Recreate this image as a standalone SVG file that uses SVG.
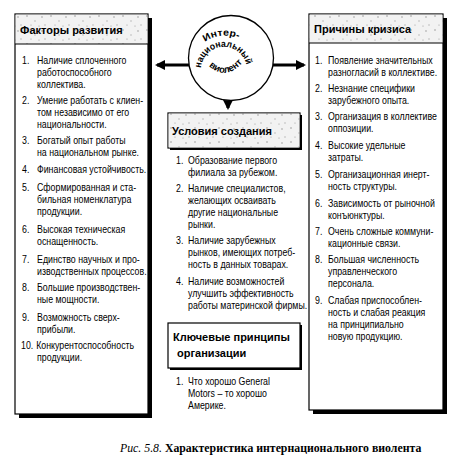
<svg xmlns="http://www.w3.org/2000/svg" width="469" height="464" viewBox="0 0 469 464">
<style>
.box{fill:#fff;stroke:#000;stroke-width:1.2}
.sh{fill:#000}
.hd{font-family:"Liberation Sans",Arial,sans-serif;font-weight:bold;font-size:11px;fill:#000}
.it{font-family:"Liberation Sans",Arial,sans-serif;font-size:10.5px;fill:#000}
.cap{font-family:"Liberation Serif","Times New Roman",serif;font-size:11.8px;fill:#000}
.arr{stroke:#000;stroke-width:3;fill:none}
.ct{font-family:"Liberation Sans",Arial,sans-serif;font-weight:bold;font-size:9.5px;fill:#000}
</style>
<defs>
<pattern id="spk" width="24" height="14" patternUnits="userSpaceOnUse">
<rect width="24" height="14" fill="#f2f2f2"/>
<circle cx="3" cy="2" r="0.8" fill="#999"/>
<circle cx="11" cy="7" r="0.7" fill="#aaa"/>
<circle cx="18" cy="3" r="0.9" fill="#bbb"/>
<circle cx="7" cy="11" r="0.6" fill="#999"/>
<circle cx="21" cy="11" r="0.7" fill="#aaa"/>
<circle cx="15" cy="12" r="0.5" fill="#888"/>
</pattern>
<marker id="ah" viewBox="0 0 10 10" refX="8" refY="5" markerWidth="3.4" markerHeight="3.4" orient="auto" markerUnits="strokeWidth">
<path d="M0,0 L10,5 L0,10 Z" fill="#000"/>
</marker>
<path id="p1" d="M205,41.8 A34,34 0 0 1 242,40.6"/>
<path id="p2" d="M201,68 A23,23 0 0 1 246.6,66"/>
<path id="p3" d="M206,63 Q225,84 245,60"/>
</defs>

<g id="connectors">
<line class="arr" x1="189" y1="65" x2="157" y2="65" marker-end="url(#ah)"/>
<line class="arr" x1="273" y1="65" x2="304" y2="65" marker-end="url(#ah)"/>
<line class="arr" x1="228" y1="100" x2="228" y2="108" marker-end="url(#ah)"/>
</g>

<g id="factors">
<rect class="sh" x="19" y="18" width="133" height="400"/>
<rect class="box" x="15" y="14" width="133" height="400"/>
<rect x="15.6" y="14.6" width="131.8" height="29.4" fill="url(#spk)"/>
<line x1="15" y1="44" x2="148" y2="44" stroke="#000" stroke-width="1"/>
<text class="hd" x="20" y="34">Факторы развития</text>
<g class="it" transform="translate(37 0) scale(0.84 1)">
<text x="-17.9" y="64">1.</text><text x="0" y="64">Наличие сплоченного</text>
<text x="0" y="76">работоспособного</text>
<text x="0" y="88">коллектива.</text>
<text x="-17.9" y="104">2.</text><text x="0" y="104">Умение работать с клиен-</text>
<text x="0" y="116">том независимо от его</text>
<text x="0" y="128">национальности.</text>
<text x="-17.9" y="144">3.</text><text x="0" y="144">Богатый опыт работы</text>
<text x="0" y="156">на национальном рынке.</text>
<text x="-17.9" y="173">4.</text><text x="0" y="173">Финансовая устойчивость.</text>
<text x="-17.9" y="191">5.</text><text x="0" y="191">Сформированная и ста-</text>
<text x="0" y="203">бильная номенклатура</text>
<text x="0" y="215">продукции.</text>
<text x="-17.9" y="233">6.</text><text x="0" y="233">Высокая техническая</text>
<text x="0" y="245">оснащенность.</text>
<text x="-17.9" y="263">7.</text><text x="0" y="263">Единство научных и про-</text>
<text x="0" y="275">изводственных процессов.</text>
<text x="-17.9" y="291">8.</text><text x="0" y="291">Большие производствен-</text>
<text x="0" y="303">ные мощности.</text>
<text x="-17.9" y="321">9.</text><text x="0" y="321">Возможность сверх-</text>
<text x="0" y="333">прибыли.</text>
<text x="-19" y="349">10.</text><text x="-1" y="349">Конкурентоспособность</text>
<text x="0" y="361">продукции.</text>
</g>
</g>

<g id="violent">
<circle cx="231" cy="58" r="42.5" fill="#fff" stroke="#000" stroke-width="1.3"/>
<text class="ct"><textPath href="#p1" textLength="35" lengthAdjust="spacingAndGlyphs">Интер-</textPath></text>
<text class="ct"><textPath href="#p2" textLength="65" lengthAdjust="spacingAndGlyphs">национальный</textPath></text>
<text class="ct"><textPath href="#p3" startOffset="4">виолент</textPath></text>
</g>

<g id="conditions">
<rect class="sh" x="170" y="115" width="132" height="35"/>
<rect class="box" x="168" y="113" width="132" height="35"/>
<rect x="168.6" y="113.6" width="130.8" height="33.8" fill="url(#spk)"/>
<text class="hd" x="172" y="135">Условия создания</text>
<g class="it" transform="translate(188 0) scale(0.84 1)">
<text x="-14.3" y="164">1.</text><text x="0" y="164">Образование первого</text>
<text x="0" y="176">филиала за рубежом.</text>
<text x="-14.3" y="192">2.</text><text x="0" y="192">Наличие специалистов,</text>
<text x="0" y="204">желающих осваивать</text>
<text x="0" y="216">другие национальные</text>
<text x="0" y="228">рынки.</text>
<text x="-14.3" y="244">3.</text><text x="0" y="244">Наличие зарубежных</text>
<text x="0" y="256">рынков, имеющих потреб-</text>
<text x="0" y="268">ность в данных товарах.</text>
<text x="-14.3" y="285">4.</text><text x="0" y="285">Наличие возможностей</text>
<text x="0" y="297">улучшить эффективность</text>
<text x="0" y="309">работы материнской фирмы.</text>
</g>
</g>

<g id="principles">
<rect class="sh" x="170" y="325" width="132" height="45"/>
<rect class="box" x="168" y="323" width="132" height="45"/>
<text class="hd" x="173" y="341">Ключевые принципы</text>
<text class="hd" x="177" y="357">организации</text>
<g class="it" transform="translate(188 0) scale(0.84 1)">
<text x="-14.3" y="385">1.</text><text x="0" y="385">Что хорошо General</text>
<text x="0" y="397">Motors – то хорошо</text>
<text x="0" y="409">Америке.</text>
</g>
</g>

<g id="crisis">
<rect class="sh" x="313" y="18" width="134" height="396"/>
<rect class="box" x="309" y="14" width="134" height="396"/>
<rect x="309.6" y="14.6" width="132.8" height="28.4" fill="url(#spk)"/>
<line x1="309" y1="43" x2="443" y2="43" stroke="#000" stroke-width="1"/>
<text class="hd" x="314" y="33">Причины кризиса</text>
<g class="it" transform="translate(328 0) scale(0.84 1)">
<text x="-15.5" y="64">1.</text><text x="0" y="64">Появление значительных</text>
<text x="0" y="76">разногласий в коллективе.</text>
<text x="-15.5" y="92">2.</text><text x="0" y="92">Незнание специфики</text>
<text x="0" y="104">зарубежного опыта.</text>
<text x="-15.5" y="120">3.</text><text x="0" y="120">Организация в коллективе</text>
<text x="0" y="132">оппозиции.</text>
<text x="-15.5" y="149">4.</text><text x="0" y="149">Высокие удельные</text>
<text x="0" y="161">затраты.</text>
<text x="-15.5" y="178">5.</text><text x="0" y="178">Организационная инерт-</text>
<text x="0" y="190">ность структуры.</text>
<text x="-15.5" y="207">6.</text><text x="0" y="207">Зависимость от рыночной</text>
<text x="0" y="219">конъюнктуры.</text>
<text x="-15.5" y="235">7.</text><text x="0" y="235">Очень сложные коммуни-</text>
<text x="0" y="247">кационные связи.</text>
<text x="-15.5" y="263">8.</text><text x="0" y="263">Большая численность</text>
<text x="0" y="275">управленческого</text>
<text x="0" y="287">персонала.</text>
<text x="-15.5" y="304">9.</text><text x="0" y="304">Слабая приспособлен-</text>
<text x="0" y="316">ность и слабая реакция</text>
<text x="0" y="328">на принципиально</text>
<text x="0" y="340">новую продукцию.</text>
</g>
</g>

<text class="cap" x="120" y="452"><tspan font-style="italic">Рис. 5.8.</tspan> <tspan font-weight="bold">Характеристика интернационального виолента</tspan></text>
</svg>
